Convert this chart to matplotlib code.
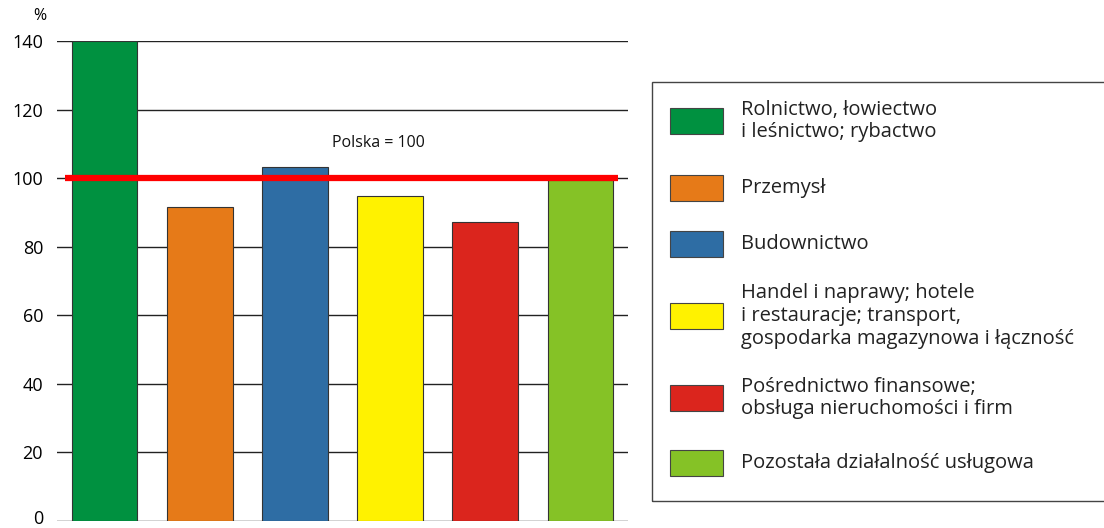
import matplotlib
matplotlib.use("Agg")
import matplotlib.pyplot as plt
from matplotlib.patches import Rectangle
from matplotlib.transforms import ScaledTranslation

plt.rcParams['font.family'] = ['Open Sans', 'DejaVu Sans']

categories = ["Rolnictwo, łowiectwo\ni leśnictwo; rybactwo",
              "Przemysł",
              "Budownictwo",
              "Handel i naprawy; hotele\ni restauracje; transport,\ngospodarka magazynowa i łączność",
              "Pośrednictwo finansowe;\nobsługa nieruchomości i firm",
              "Pozostała działalność usługowa"]
values = [140, 91.6, 103.2, 94.8, 87.2, 99.6]
colors = ["#009140", "#E67A18", "#2E6DA4", "#FFF200", "#DB251D", "#85C226"]
yticks = [0, 20, 40, 60, 80, 100, 120, 140]
ref_value = 100
ref_label = "Polska = 100"

W, H = 1104, 528
fig = plt.figure(figsize=(W/100, H/100), dpi=100)

def fx(px): return px / W
def fy(py): return 1 - py / H

ax = fig.add_axes([fx(57), fy(521), (628-57)/W, (521-41)/H])
x = list(range(len(values)))
ax.bar(x, values, width=0.69, color=colors, edgecolor="#333333", linewidth=0.8, zorder=2)
ax.set_xlim(-0.5, len(values) - 0.5)
ax.set_ylim(0, 140)
ax.set_yticks(yticks)
ax.set_xticks([])
for s in ax.spines.values():
    s.set_visible(False)
ax.yaxis.grid(True, color="#222222", linewidth=1.0, zorder=0)
ax.set_axisbelow(True)
ax.tick_params(axis='y', length=0, pad=10, labelsize=13)
fig.canvas.draw()
lbl0 = ax.get_yticklabels()[0]
lbl0.set_transform(lbl0.get_transform() + ScaledTranslation(0, 4/100, fig.dpi_scale_trans))
ax.plot([-0.415, 5.395], [ref_value, ref_value], color="#FF0000", linewidth=4.5, zorder=3, solid_capstyle='butt')
ax.text(2.88, 110.3, ref_label, ha='center', va='center', fontsize=11.5, color="#111111")
fig.text(fx(40), fy(16), "%", ha='center', va='center', fontsize=11.5)

# legend
fig.patches.append(Rectangle((fx(652), fy(501)), fx(1110) - fx(652), fy(82) - fy(501),
                             transform=fig.transFigure, fill=False, edgecolor="#444444", linewidth=1.0))
patch_y = [121, 188, 244, 316, 398, 463]
for cat, col, py in zip(categories, colors, patch_y):
    fig.patches.append(Rectangle((fx(670), fy(py + 13)), fx(723) - fx(670), fy(py - 13) - fy(py + 13),
                                 transform=fig.transFigure, facecolor=col, edgecolor="#444444", linewidth=0.8))
    fig.text(fx(741), fy(py), cat, ha='left', va='center', fontsize=14.5, linespacing=1.17, color="#222222")

fig.savefig("out.png", dpi=100)
